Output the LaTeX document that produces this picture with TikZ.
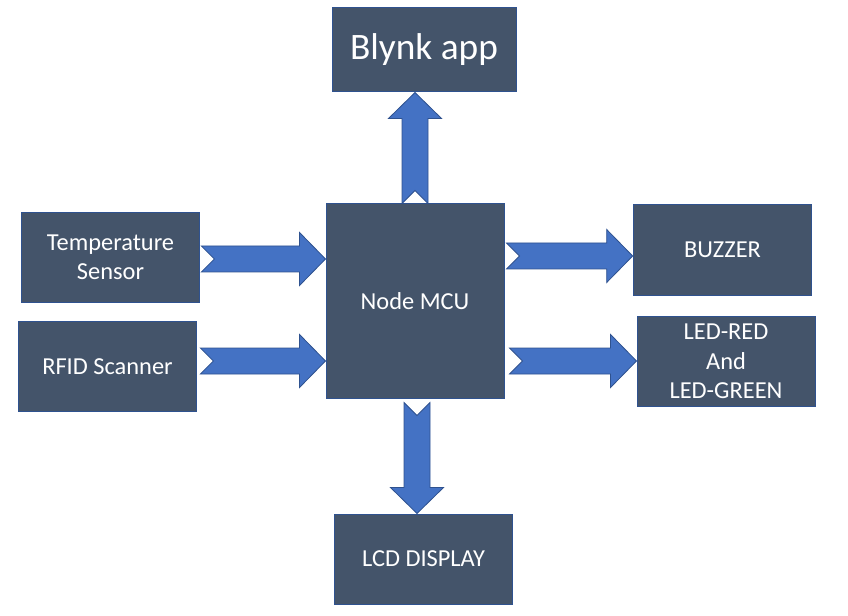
\documentclass[tikz,border=0pt]{standalone}
\usepackage{fontspec}
\setmainfont{Carlito}
\usetikzlibrary{calc}

\definecolor{boxfill}{HTML}{44546A}
\definecolor{boxline}{HTML}{2F528F}
\definecolor{flowfill}{HTML}{4472C4}

% notched block arrow: from, to, direction
\newcommand\blockarrow[3]{%
  \draw [flow] let \p1 = ($(#2)-(#1)$), \n1 = {veclen(\x1,\y1)} in
    [shift={(#1)}, rotate=#3]
    (0pt,9.75pt) -- (\n1-19.5pt,9.75pt) -- (\n1-19.5pt,19.9pt) -- (\n1,0pt)
    -- (\n1-19.5pt,-19.9pt) -- (\n1-19.5pt,-9.75pt) -- (0pt,-9.75pt)
    -- (9.75pt,0pt) -- cycle;
}

\begin{document}
\begin{tikzpicture}[x=0.75pt, y=-0.75pt,
	block/.style={draw=boxline, line width=0.75pt, fill=boxfill, text=white,
		inner sep=0pt, align=center, minimum width=134pt, minimum height=68pt,
		font=\fontsize{18.3}{22}\selectfont},
	flow/.style={draw=boxline, line width=0.6pt, fill=flowfill}]
	\useasboundingbox (0,0) rectangle (848,616);

	\node [block, minimum width=138pt, minimum height=63pt,
		font=\fontsize{28}{34}\selectfont] (blynk) at (424, 50) {Blynk app};
	\node [block, minimum width=133.5pt, minimum height=145.5pt] (mcu) at (415, 301) {Node MCU};
	\node [block] (temp) at (110.5, 257.5) {Temperature\\Sensor};
	\node [block] (rfid) at (107.5, 366.5) {RFID Scanner};
	\node [block] (buzzer) at (722.5, 250) {BUZZER};
	\node [block, minimum width=133.5pt, minimum height=67.5pt] (led) at (726, 361.5) {LED-RED\\And\\LED-GREEN};
	\node [block, minimum height=67.5pt] (lcd) at (423.5, 559) {LCD DISPLAY};

	\coordinate (a1) at ($(temp.east)+(1,1.5)$);
	\coordinate (a2) at ($(rfid.east)+(3,-5.5)$);
	\coordinate (a4) at ($(mcu.east)+(2,-45)$);
	\coordinate (a5) at ($(mcu.east)+(5,60)$);
	\coordinate (a6) at ($(mcu.south)+(2,4)$);

	\blockarrow{a1}{a1 -| mcu.west}{0}
	\blockarrow{a2}{a2 -| mcu.west}{0}
	\blockarrow{mcu.north}{mcu.north |- blynk.south}{90}
	\blockarrow{a4}{a4 -| buzzer.west}{0}
	\blockarrow{a5}{a5 -| led.west}{0}
	\blockarrow{a6}{a6 |- lcd.north}{-90}
\end{tikzpicture}
\end{document}
